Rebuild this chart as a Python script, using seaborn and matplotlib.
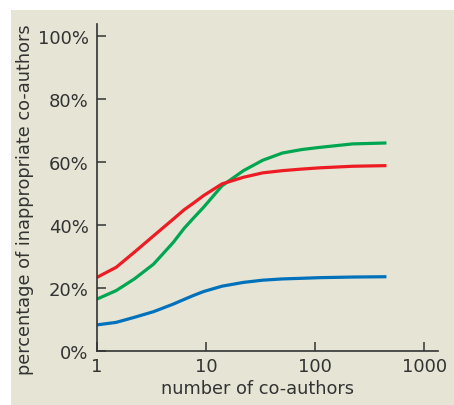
import numpy as np
import pandas as pd
import seaborn as sns
import matplotlib.pyplot as plt
from matplotlib.patches import Rectangle

sns.set_style('ticks')
plt.rcParams['font.family'] = ['DejaVu Sans']

# values (percent)
coauthors = [1, 1.5, 2.2, 3.3, 5, 6.3, 7.6, 9.5, 14, 22, 33, 50, 75, 110, 220, 450]
red_pct = [23.4, 26.6, 31.4, 36.6, 41.9, 44.9, 46.9, 49.4, 53.1, 55.2, 56.6, 57.3, 57.8, 58.2, 58.7, 58.9]
green_pct = [16.5, 19.2, 22.9, 27.6, 34.5, 39.0, 42.1, 45.7, 52.5, 57.3, 60.6, 62.9, 64.0, 64.7, 65.8, 66.1]
blue_pct = [8.3, 9.1, 10.7, 12.5, 14.9, 16.4, 17.6, 18.9, 20.6, 21.8, 22.5, 22.9, 23.1, 23.3, 23.5, 23.6]

x_ticks = [1, 10, 100, 1000]
x_ticklabels = ['1', '10', '100', '1000']
y_ticks = [0, 20, 40, 60, 80, 100]
y_ticklabels = ['0%', '20%', '40%', '60%', '80%', '100%']

bg = '#E6E4D4'
ink = '#333333'

fig = plt.figure(figsize=(4.54, 4.06), dpi=100, facecolor='white')
fig.patches.append(Rectangle((11 / 454, 0), 1, (406 - 11) / 406,
                             transform=fig.transFigure, facecolor=bg,
                             edgecolor='none', zorder=-10))
ax = fig.add_axes([97 / 454, 1 - 352 / 406, (438 - 97) / 454, (352 - 25) / 406])
ax.set_facecolor(bg)

df = pd.DataFrame({'x': coauthors, 'red': red_pct, 'green': green_pct, 'blue': blue_pct})
line_kw = dict(lw=2.3, solid_joinstyle='round', solid_capstyle='butt')
sns.lineplot(data=df, x='x', y='blue', ax=ax, color='#0072BC', **line_kw)
sns.lineplot(data=df, x='x', y='green', ax=ax, color='#00A651', **line_kw)
sns.lineplot(data=df, x='x', y='red', ax=ax, color='#ED1C24', **line_kw)

ax.set_xscale('log')
ax.set_xlim(1, 1336)
ax.set_ylim(0, 103.9)
ax.set_xticks(x_ticks)
ax.set_xticklabels(x_ticklabels)
ax.minorticks_off()
ax.set_yticks(y_ticks)
ax.set_yticklabels(y_ticklabels)

for side in ['top', 'right']:
    ax.spines[side].set_visible(False)
for side in ['left', 'bottom']:
    ax.spines[side].set_color(ink)
    ax.spines[side].set_linewidth(1.2)

ax.tick_params(axis='both', direction='in', length=6.5, width=1.1, color=ink,
               labelcolor=ink, labelsize=13)
ax.tick_params(axis='x', pad=4)
ax.tick_params(axis='y', pad=6)

ax.set_xlabel('number of co-authors', fontsize=12.8, color=ink)
ax.set_ylabel('percentage of inappropriate co-authors', fontsize=12.8, color=ink)
ax.xaxis.set_label_coords(0.472, -0.085)
ax.yaxis.set_label_coords(-0.185, 0.465)

fig.savefig('out.png', dpi=100, facecolor='white')
